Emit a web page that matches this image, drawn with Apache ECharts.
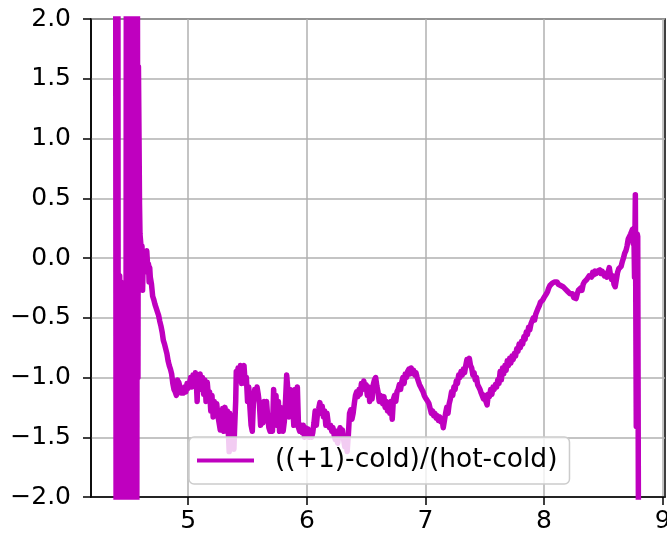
<!DOCTYPE html>
<html>
<head>
<meta charset="utf-8">
<script src="https://cdn.jsdelivr.net/npm/echarts@6/dist/echarts.min.js"></script>
<style>html,body{margin:0;padding:0;background:#fff;overflow:hidden}#c{width:667px;height:540px}</style>
</head>
<body>
<div id="c"></div>
<script>
const seriesName = '((+1)-cold)/(hot-cold)';
const xTicks = [5, 6, 7, 8, 9];
const yTicks = [-2, -1.5, -1, -0.5, 0, 0.5, 1, 1.5, 2];

// noisy start (values beyond ±2 are clipped by the axes)
const wildSegment = [
[4.388,2.6],[4.392,-2.6],[4.397,2.6],[4.402,-2.6],[4.407,2.6],[4.410,-2.6],[4.414,-0.14],[4.418,-2.6],
[4.422,-0.15],[4.427,-2.6],[4.432,-0.2],[4.437,-2.6],[4.441,-0.3],[4.445,-2.6],[4.449,-0.69],[4.454,-2.6],
[4.459,-0.72],[4.464,-2.6],[4.469,-0.75],[4.474,-2.6],[4.478,2.6],[4.483,-2.6],[4.488,2.6],[4.493,-2.6],
[4.498,2.6],[4.503,-2.6],[4.507,2.6],[4.511,-2.6],[4.515,-0.44],[4.519,-2.6],[4.523,-0.46],[4.527,-2.6],
[4.531,2.6],[4.536,-2.6],[4.541,2.6],[4.546,-2.6],[4.551,2.6],[4.556,-2.6],[4.561,2.6],[4.566,-2.6],
[4.571,2.6],[4.576,-1.0],[4.580,1.6],[4.585,1.0],[4.589,0.45],[4.593,0.2]
];

const mainSegment = [
[4.600,0.12],[4.605,0.04],[4.610,0.1],[4.615,-0.27],[4.620,-0.05],[4.625,0.02],[4.630,-0.1],[4.635,-0.04],
[4.640,-0.1],[4.645,-0.02],[4.650,0.06],[4.655,-0.02],[4.660,-0.12],[4.665,-0.05],[4.670,-0.2],[4.675,-0.08],
[4.680,-0.16],[4.690,-0.22],[4.700,-0.32],[4.710,-0.35],[4.720,-0.39],[4.730,-0.42],[4.740,-0.45],[4.750,-0.48],
[4.760,-0.53],[4.770,-0.57],[4.780,-0.62],[4.790,-0.69],[4.800,-0.72],[4.810,-0.76],[4.820,-0.8],[4.830,-0.86],
[4.840,-0.9],[4.850,-0.93],[4.860,-0.97],[4.870,-1.05],[4.880,-1.1],[4.890,-1.12],[4.900,-1.15],[4.905,-1.12],
[4.910,-1.02],[4.915,-1.1],[4.920,-1.04],[4.930,-1.08],[4.940,-1.13],[4.950,-1.1],[4.960,-1.13],[4.970,-1.08],
[4.980,-1.12],[4.990,-1.05],[5.000,-1.09],[5.010,-1.06],[5.020,-1.0],[5.030,-1.08],[5.040,-0.98],[5.050,-1.04],
[5.060,-0.96],[5.070,-1.08],[5.075,-1.2],[5.080,-1.0],[5.090,-1.08],[5.100,-0.97],[5.110,-1.1],[5.120,-1.0],
[5.130,-1.14],[5.140,-1.02],[5.150,-1.2],[5.160,-1.04],[5.170,-1.15],[5.180,-1.12],[5.190,-1.28],[5.200,-1.15],
[5.210,-1.33],[5.220,-1.2],[5.230,-1.3],[5.240,-1.22],[5.250,-1.32],[5.260,-1.38],[5.270,-1.44],[5.280,-1.36],
[5.290,-1.26],[5.300,-1.45],[5.310,-1.25],[5.320,-1.44],[5.330,-1.28],[5.340,-1.5],[5.345,-1.62],[5.350,-1.3],
[5.360,-1.48],[5.370,-1.32],[5.380,-1.5],[5.385,-1.6],[5.390,-1.45],[5.400,-1.2],[5.405,-0.95],[5.410,-1.02],
[5.420,-0.92],[5.430,-1.0],[5.440,-0.9],[5.450,-1.05],[5.460,-0.93],[5.470,-0.9],[5.480,-1.05],[5.490,-1.0],
[5.500,-1.2],[5.510,-1.08],[5.520,-1.25],[5.530,-1.4],[5.540,-1.45],[5.550,-1.2],[5.560,-1.1],[5.570,-1.15],
[5.580,-1.08],[5.590,-1.14],[5.600,-1.22],[5.610,-1.4],[5.620,-1.25],[5.630,-1.38],[5.640,-1.2],[5.650,-1.33],
[5.660,-1.2],[5.670,-1.33],[5.680,-1.42],[5.690,-1.45],[5.700,-1.38],[5.710,-1.45],[5.720,-1.1],[5.730,-1.3],
[5.740,-1.15],[5.750,-1.4],[5.760,-1.2],[5.770,-1.45],[5.780,-1.25],[5.790,-1.4],[5.800,-1.45],[5.810,-1.37],
[5.820,-1.2],[5.830,-0.98],[5.840,-1.1],[5.850,-1.33],[5.860,-1.1],[5.870,-1.3],[5.880,-1.22],[5.890,-1.4],
[5.900,-1.1],[5.910,-1.25],[5.920,-1.08],[5.930,-1.42],[5.940,-1.45],[5.950,-1.4],[5.960,-1.46],[5.970,-1.4],
[5.980,-1.5],[5.990,-1.42],[6.000,-1.48],[6.010,-1.43],[6.020,-1.5],[6.030,-1.45],[6.040,-1.5],[6.050,-1.46],
[6.060,-1.38],[6.070,-1.28],[6.080,-1.4],[6.090,-1.3],[6.100,-1.26],[6.110,-1.21],[6.120,-1.3],[6.130,-1.24],
[6.140,-1.33],[6.150,-1.28],[6.160,-1.4],[6.170,-1.3],[6.180,-1.38],[6.190,-1.42],[6.200,-1.4],[6.210,-1.45],
[6.220,-1.42],[6.230,-1.48],[6.240,-1.52],[6.250,-1.45],[6.260,-1.55],[6.270,-1.47],[6.280,-1.42],[6.290,-1.5],
[6.300,-1.44],[6.310,-1.52],[6.320,-1.58],[6.330,-1.5],[6.340,-1.62],[6.350,-1.48],[6.360,-1.3],[6.370,-1.27],
[6.380,-1.35],[6.390,-1.3],[6.400,-1.22],[6.410,-1.15],[6.420,-1.12],[6.430,-1.16],[6.440,-1.1],[6.450,-1.14],
[6.460,-1.05],[6.470,-1.1],[6.480,-1.03],[6.490,-1.08],[6.500,-1.06],[6.510,-1.15],[6.520,-1.08],[6.530,-1.2],
[6.540,-1.1],[6.550,-1.18],[6.560,-1.06],[6.570,-1.02],[6.580,-1.0],[6.590,-1.07],[6.600,-1.12],[6.610,-1.2],
[6.620,-1.15],[6.630,-1.18],[6.640,-1.22],[6.650,-1.16],[6.660,-1.25],[6.670,-1.2],[6.680,-1.28],[6.690,-1.22],
[6.700,-1.3],[6.710,-1.2],[6.720,-1.35],[6.730,-1.18],[6.740,-1.15],[6.750,-1.2],[6.760,-1.12],[6.770,-1.1],
[6.780,-1.06],[6.790,-1.1],[6.800,-1.04],[6.810,-1.0],[6.820,-1.05],[6.830,-0.97],[6.840,-1.0],[6.850,-0.95],
[6.860,-0.93],[6.870,-0.97],[6.880,-0.92],[6.890,-0.96],[6.900,-0.94],[6.910,-0.98],[6.920,-0.96],[6.930,-1.0],
[6.940,-1.03],[6.950,-1.06],[6.960,-1.08],[6.970,-1.1],[6.980,-1.12],[6.990,-1.15],[7.000,-1.17],[7.010,-1.16],
[7.020,-1.2],[7.030,-1.22],[7.040,-1.26],[7.050,-1.3],[7.060,-1.28],[7.070,-1.32],[7.080,-1.3],[7.090,-1.34],
[7.100,-1.32],[7.110,-1.36],[7.120,-1.33],[7.130,-1.37],[7.140,-1.35],[7.150,-1.42],[7.160,-1.36],[7.170,-1.3],
[7.180,-1.25],[7.190,-1.3],[7.200,-1.22],[7.210,-1.18],[7.220,-1.12],[7.230,-1.15],[7.240,-1.08],[7.250,-1.1],
[7.260,-1.03],[7.270,-1.05],[7.280,-0.98],[7.290,-1.0],[7.300,-0.95],[7.310,-0.98],[7.320,-0.93],[7.330,-0.96],
[7.340,-0.9],[7.350,-0.85],[7.360,-0.88],[7.370,-0.84],[7.380,-0.9],[7.390,-0.92],[7.400,-0.98],[7.410,-0.96],
[7.420,-1.02],[7.430,-1.0],[7.440,-1.06],[7.450,-1.08],[7.460,-1.1],[7.470,-1.13],[7.480,-1.12],[7.490,-1.18],
[7.500,-1.15],[7.510,-1.2],[7.520,-1.23],[7.530,-1.14],[7.540,-1.16],[7.550,-1.1],[7.560,-1.14],[7.570,-1.08],
[7.580,-1.1],[7.590,-1.06],[7.600,-1.08],[7.610,-1.02],[7.620,-1.05],[7.630,-0.95],[7.640,-1.02],[7.650,-0.92],
[7.660,-0.97],[7.670,-0.9],[7.680,-0.94],[7.690,-0.86],[7.700,-0.9],[7.710,-0.84],[7.720,-0.88],[7.730,-0.82],
[7.740,-0.85],[7.750,-0.8],[7.760,-0.82],[7.770,-0.76],[7.780,-0.78],[7.790,-0.72],[7.800,-0.75],[7.810,-0.7],
[7.820,-0.72],[7.830,-0.66],[7.840,-0.68],[7.850,-0.62],[7.860,-0.64],[7.870,-0.58],[7.880,-0.6],[7.890,-0.55],
[7.900,-0.56],[7.910,-0.5],[7.920,-0.52],[7.930,-0.47],[7.940,-0.48],[7.950,-0.42],[7.960,-0.4],[7.970,-0.37],
[7.980,-0.38],[7.990,-0.35],[8.000,-0.33],[8.010,-0.32],[8.020,-0.3],[8.030,-0.28],[8.040,-0.25],[8.050,-0.23],
[8.060,-0.24],[8.070,-0.21],[8.080,-0.22],[8.090,-0.2],[8.100,-0.21],[8.110,-0.2],[8.120,-0.22],[8.130,-0.21],
[8.140,-0.23],[8.150,-0.22],[8.160,-0.24],[8.170,-0.23],[8.180,-0.26],[8.190,-0.27],[8.200,-0.28],[8.210,-0.27],
[8.220,-0.3],[8.230,-0.31],[8.240,-0.3],[8.250,-0.33],[8.260,-0.32],[8.270,-0.34],[8.280,-0.3],[8.290,-0.27],
[8.300,-0.28],[8.310,-0.25],[8.320,-0.27],[8.330,-0.22],[8.340,-0.2],[8.350,-0.21],[8.360,-0.18],[8.370,-0.19],
[8.380,-0.15],[8.390,-0.14],[8.400,-0.16],[8.410,-0.12],[8.420,-0.14],[8.430,-0.11],[8.440,-0.13],[8.450,-0.11],
[8.460,-0.12],[8.470,-0.1],[8.480,-0.13],[8.490,-0.11],[8.500,-0.13],[8.510,-0.15],[8.520,-0.13],[8.530,-0.16],
[8.540,-0.12],[8.550,-0.08],[8.560,-0.14],[8.570,-0.18],[8.580,-0.15],[8.590,-0.22],[8.600,-0.24],[8.610,-0.18],
[8.620,-0.12],[8.630,-0.09],[8.640,-0.1],[8.650,-0.07],[8.660,-0.03],[8.670,0.0],[8.680,0.04],[8.690,0.06],
[8.700,0.1],[8.710,0.16],[8.720,0.15],[8.730,0.2],[8.740,0.21]
];

const tailSegment = [
[8.746,0.24],[8.752,0.12],[8.758,0.2],[8.763,-0.16],[8.770,0.53],[8.778,-1.41],[8.786,0.2],[8.790,0.18],[8.797,-2.6]
];

const ratioPoints = wildSegment.concat(mainSegment, tailSegment);

const FONT = 'DejaVu Sans';
const chart = echarts.init(document.getElementById('c'), null, {renderer: 'canvas'});
chart.setOption({
  animation: false,
  backgroundColor: '#ffffff',
  grid: {left: 91, right: 2, top: 19, bottom: 43, containLabel: false, outerBoundsMode: 'none',
    show: true, borderColor: '#000000', borderWidth: 1.5, backgroundColor: 'transparent'},
  xAxis: {
    type: 'value', min: 4.18, max: 9.02,
    axisLine: {show: true, onZero: false, lineStyle: {color: '#000', width: 1.5}},
    axisTick: {show: true, customValues: xTicks, length: 8, lineStyle: {color: '#000', width: 1.5}},
    axisLabel: {customValues: xTicks, color: '#000', fontFamily: FONT, fontSize: 25, margin: 12,
      hideOverlap: false, formatter: v => String(v)},
    splitLine: {show: true, lineStyle: {color: '#b0b0b0', width: 1.5}}
  },
  yAxis: {
    type: 'value', min: -2, max: 2, interval: 0.5,
    axisLine: {show: true, onZero: false, lineStyle: {color: '#000', width: 1.5}},
    axisTick: {show: true, length: 8, lineStyle: {color: '#000', width: 1.5}},
    axisLabel: {color: '#000', fontFamily: FONT, fontSize: 25, margin: 20,
      formatter: v => (v < 0 ? '\u2212' : '') + Math.abs(v).toFixed(1)},
    splitLine: {show: true, lineStyle: {color: '#b0b0b0', width: 1.5}}
  },
  legend: {
    show: true, left: 189, top: 437,
    padding: [10, 12, 10, 8],
    icon: 'rect',
    itemWidth: 57, itemHeight: 4,
    backgroundColor: 'rgba(255,255,255,0.8)',
    borderColor: '#cccccc', borderWidth: 1.5, borderRadius: 5,
    textStyle: {color: '#000', fontFamily: FONT, fontSize: 26.5, padding: [0, 0, 0, 16]},
    data: [seriesName]
  },
  series: [{
    name: seriesName, type: 'line', data: ratioPoints,
    showSymbol: false, symbol: 'none', clip: true,
    lineStyle: {color: '#bf00bf', width: 5.5, join: 'round', cap: 'round'},
    itemStyle: {color: '#bf00bf'}
  }]
});
</script>
</body>
</html>
